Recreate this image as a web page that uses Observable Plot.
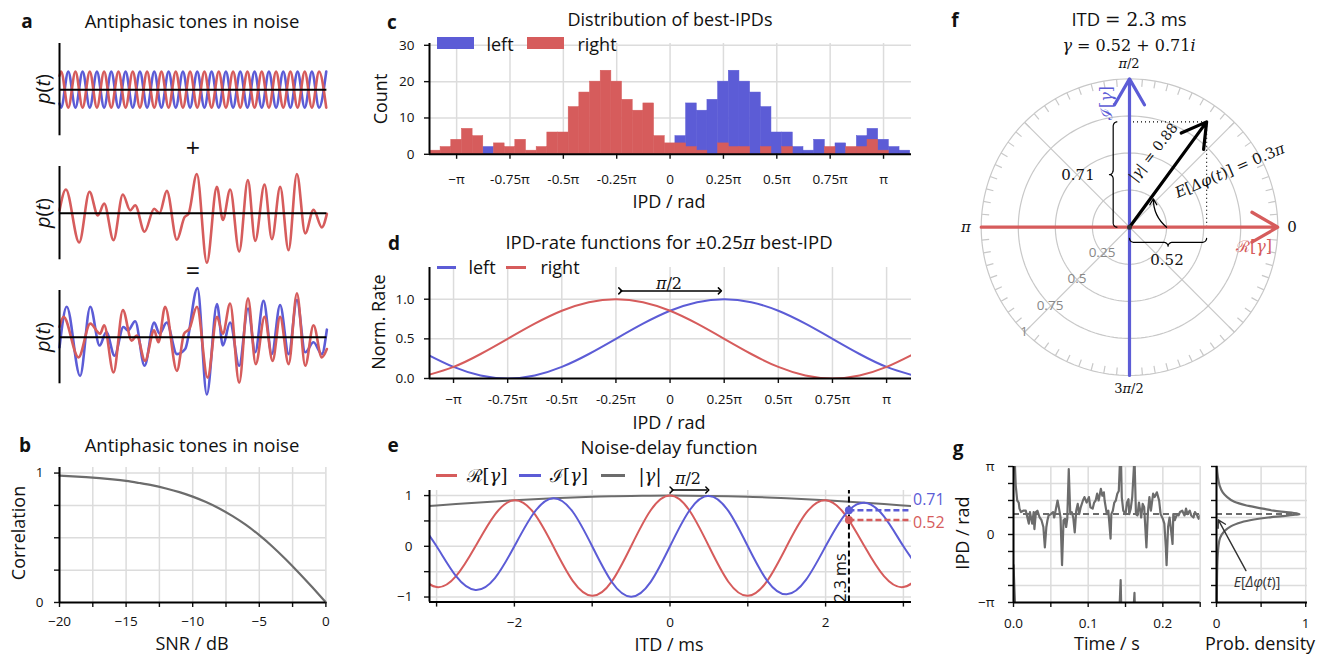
<!DOCTYPE html>
<html><head><meta charset="utf-8"><title>Figure</title>
<script src="https://cdn.jsdelivr.net/npm/d3@7"></script>
<script src="https://cdn.jsdelivr.net/npm/@observablehq/plot@0.6"></script>
<style>
html,body{margin:0;padding:0;background:#fff;}
#root{position:relative;width:1333px;height:656px;overflow:hidden;font-family:"Open Sans","DejaVu Sans",sans-serif;color:#111;}
.p{position:absolute;}
.t{position:absolute;white-space:nowrap;line-height:1;transform:translate(-50%,-50%);}
.ti{font-size:18.5px;}
.lab{font-size:18px;}
.L{font-weight:700;font-size:19px;}
.m{font-family:"DejaVu Serif","Liberation Serif",serif;}
.sw{position:absolute;}
</style></head><body><div id="root"></div>
<script>
// ================= DATA =================
const BLUE = "#5c5cd6", RED = "#d65c5c", GRAY = "#6c6c6c", GRID = "#dcdcdc";
const SANS = '"Open Sans","DejaVu Sans",sans-serif';

// a1: antiphasic tones (extrema of the right-ear tone, left ear is antiphasic)
const toneT = [0, 0.006, 0.0328, 0.0596, 0.0864, 0.1132, 0.14, 0.1668, 0.1936, 0.2204, 0.2472, 0.274, 0.3008, 0.3276, 0.3544, 0.3812, 0.408, 0.4348, 0.4616, 0.4884, 0.5152, 0.542, 0.5688, 0.5956, 0.6224, 0.6492, 0.676, 0.7028, 0.7296, 0.7564, 0.7832, 0.81, 0.8368, 0.8636, 0.8904, 0.9172, 0.944, 0.9708, 0.9976];
const toneRight = [0.77, 1, -1, 1, -1, 1, -1, 1, -1, 1, -1, 1, -1, 1, -1, 1, -1, 1, -1, 1, -1, 1, -1, 1, -1, 1, -1, 1, -1, 1, -1, 1, -1, 1, -1, 1, -1, 1, -1];
const toneLeft = [-0.77, -1, 1, -1, 1, -1, 1, -1, 1, -1, 1, -1, 1, -1, 1, -1, 1, -1, 1, -1, 1, -1, 1, -1, 1, -1, 1, -1, 1, -1, 1, -1, 1, -1, 1, -1, 1, -1, 1];

// a2: noise (extrema)
const noiseT = [0, 0.0237, 0.0736, 0.1122, 0.1434, 0.1671, 0.202, 0.2369, 0.2643, 0.283, 0.318, 0.3541, 0.374, 0.4015, 0.4389, 0.4676, 0.4825, 0.5137, 0.5511, 0.5885, 0.611, 0.6384, 0.6721, 0.7045, 0.7319, 0.7668, 0.7943, 0.8254, 0.8566, 0.8878, 0.919, 0.9501, 0.9813, 1.0];
const noiseV = [0.15, 1.30, -1.61, 1.17, -0.13, 0.52, -1.48, 1.02, 0.15, 0.43, -1.02, 0.24, 0.0, 1.22, -1.46, -0.22, -0.04, 2.15, -2.72, 1.44, -0.37, 1.30, -2.11, 1.81, -1.52, 1.57, -1.43, 1.44, -2.04, 2.15, -1.11, 0.19, -0.78, -0.04];

// a3: tones in noise (extrema)
const mixRightT = [0, 0.015, 0.071, 0.115, 0.152, 0.167, 0.202, 0.237, 0.27, 0.289, 0.32, 0.354, 0.37, 0.395, 0.439, 0.466, 0.486, 0.514, 0.554, 0.589, 0.611, 0.638, 0.672, 0.705, 0.734, 0.767, 0.797, 0.825, 0.857, 0.888, 0.919, 0.95, 0.981, 1.0];
const mixRightV = [0.56, 1.11, -1.11, 0.74, 0.19, 0.65, -1.94, 1.48, -0.19, 0.09, -1.30, 0.37, -0.28, 1.67, -1.85, 0.19, 0.46, 1.67, -2.22, 1.11, 0.19, 1.85, -2.5, 2.13, -1.48, 1.11, -1.30, 1.11, -1.48, 2.41, -1.57, 0.65, -1.11, -0.65];
const mixLeftT = [0, 0.027, 0.077, 0.115, 0.15, 0.175, 0.206, 0.239, 0.256, 0.283, 0.318, 0.354, 0.374, 0.401, 0.439, 0.47, 0.516, 0.551, 0.589, 0.611, 0.638, 0.672, 0.705, 0.732, 0.763, 0.794, 0.825, 0.857, 0.888, 0.919, 0.95, 0.981, 1.0];
const mixLeftV = [-0.56, 1.67, -2.13, 1.67, -0.46, 0.28, -1.02, 0.56, 0.37, 0.87, -1.57, 0.80, 0.19, 0.80, -0.93, -0.65, 2.69, -3.15, 1.81, -0.46, 0.80, -1.57, 1.57, -0.83, 2.0, -0.93, 1.76, -0.93, 2.04, -0.83, -0.28, -0.93, 0.41];

// b: correlation vs SNR
const bSNR = [-20, -19, -18, -17, -16, -15, -14, -13, -12, -11, -10, -9, -8, -7, -6, -5, -4, -3, -2, -1, 0];
const bCorr = [0.980, 0.975, 0.969, 0.961, 0.951, 0.939, 0.923, 0.905, 0.881, 0.853, 0.818, 0.776, 0.726, 0.667, 0.599, 0.520, 0.431, 0.332, 0.226, 0.115, 0];

// c: histogram of best-IPDs (bin centres in units of pi, width 0.05 pi)
const cBins = [-1.1, -1.05, -1, -0.95, -0.9, -0.85, -0.8, -0.75, -0.7, -0.65, -0.6, -0.55, -0.5, -0.45, -0.4, -0.35, -0.3, -0.25, -0.2, -0.15, -0.1, -0.05, 0, 0.05, 0.1, 0.15, 0.2, 0.25, 0.3, 0.35, 0.4, 0.45, 0.5, 0.55, 0.6, 0.65, 0.7, 0.75, 0.8, 0.85, 0.9, 0.95, 1, 1.05, 1.1];
const cLeft  = [0, 0, 0, 0, 0, 2, 0, 0, 0, 0, 0, 0, 0, 0, 0, 0, 0, 0, 0, 0, 0, 0, 0, 5, 14, 12, 15, 20, 23, 20, 17, 13, 6, 6, 2, 1, 4, 1, 3, 1, 5, 7, 4, 2, 1];
const cRight = [1, 2, 4, 7, 5, 0, 3, 2, 4, 1, 2, 6, 6, 13, 17, 20, 23, 20, 15, 12, 14, 5, 3, 3, 2, 1, 0, 3, 2, 2, 0, 2, 0, 2, 0, 0, 0, 2, 0, 2, 2, 4, 1, 0, 0];
const piTicks = [-1, -0.75, -0.5, -0.25, 0, 0.25, 0.5, 0.75, 1];
const piTickLabels = ["−π", "-0.75π", "-0.5π", "-0.25π", "0", "0.25π", "0.5π", "0.75π", "π"];

// d: IPD-rate functions (IPD in units of pi)
const dIPD = [-1.125, -1, -0.875, -0.75, -0.625, -0.5, -0.375, -0.25, -0.125, 0, 0.125, 0.25, 0.375, 0.5, 0.625, 0.75, 0.875, 1, 1.125];
const dLeft  = [0.309, 0.146, 0.038, 0, 0.038, 0.146, 0.309, 0.5, 0.691, 0.854, 0.962, 1, 0.962, 0.854, 0.691, 0.5, 0.309, 0.146, 0.038];
const dRight = [0.038, 0.146, 0.309, 0.5, 0.691, 0.854, 0.962, 1, 0.962, 0.854, 0.691, 0.5, 0.309, 0.146, 0.038, 0, 0.038, 0.146, 0.309];

// e: noise-delay function
const eITD = [-3.25, -3, -2.75, -2.5, -2.25, -2, -1.75, -1.5, -1.25, -1, -0.75, -0.5, -0.25, 0, 0.25, 0.5, 0.75, 1, 1.25, 1.5, 1.75, 2, 2.25, 2.5, 2.75, 3, 3.25];
const eRe  = [-0.547, -0.804, -0.589, 0, 0.626, 0.908, 0.657, 0, -0.681, -0.976, -0.698, 0, 0.706, 1, 0.706, 0, -0.698, -0.976, -0.681, 0, 0.657, 0.908, 0.626, 0, -0.589, -0.804, -0.547];
const eIm  = [0.547, 0, -0.589, -0.860, -0.626, 0, 0.657, 0.947, 0.681, 0, -0.698, -0.994, -0.706, 0, 0.706, 0.994, 0.698, 0, -0.681, -0.947, -0.657, 0, 0.626, 0.860, 0.589, 0, -0.547];
const eAbs = [0.774, 0.804, 0.833, 0.860, 0.885, 0.908, 0.929, 0.947, 0.963, 0.976, 0.987, 0.994, 0.998, 1, 0.998, 0.994, 0.987, 0.976, 0.963, 0.947, 0.929, 0.908, 0.885, 0.860, 0.833, 0.804, 0.774];
const eSel = {itd: 2.3, re: 0.52, im: 0.71};

// f: complex coherence
const fGamma = {re: 0.52, im: 0.71};
const fRings = [0.25, 0.5, 0.75, 1];
const fSpokes = [45, 135, 225, 315];

// g: IPD over time (units of pi) and its density
const gTime = [0, 0.003, 0.005, 0.007, 0.008, 0.010, 0.013, 0.0165, 0.019, 0.0205, 0.022, 0.025, 0.027, 0.028, 0.030, 0.032, 0.035, 0.0375, 0.040, 0.042, 0.044, 0.0455, 0.047, 0.050, 0.053, 0.0545, 0.056, 0.059, 0.061, 0.063, 0.065, 0.067, 0.069, 0.0705, 0.072, 0.074, 0.076, 0.078, 0.080, 0.082, 0.084, 0.086, 0.088, 0.090, 0.093, 0.095, 0.098, 0.101, 0.103, 0.106, 0.108, 0.110, 0.112, 0.114, 0.117, 0.119, 0.121, 0.122, 0.125, 0.127, 0.130, 0.131, 0.133, 0.135, 0.137, 0.139, 0.141, 0.1435, 0.145, 0.147, 0.150, 0.152, 0.154, 0.155, 0.157, 0.159, 0.162, 0.164, 0.166, 0.168, 0.171, 0.173, 0.175, 0.178, 0.180, 0.182, 0.184, 0.187, 0.189, 0.192, 0.195, 0.197, 0.200, 0.202, 0.204, 0.205, 0.207, 0.209, 0.211, 0.213, 0.214, 0.216, 0.219, 0.221, 0.223, 0.226, 0.229, 0.231, 0.233, 0.236, 0.238, 0.241, 0.243, 0.246, 0.248, 0.250];
const gIPD = [1.55, 0.72, 0.50, 0.47, 0.38, 0.33, 0.35, 0.35, 0.23, 0.16, 0.33, 0.16, 0.33, 0.08, 0.33, 0.35, 0.25, 0.21, 0.11, -0.19, 0.11, 0.21, 0.28, 0.30, 0.33, 0.25, 0.33, 0.50, 0.38, 0.25, -0.45, 0.21, 0.23, 0.11, 0.23, 0.96, 0.30, 0.33, 0.25, 0.03, 0.35, 0.45, 0.30, 0.40, 0.50, 0.55, 0.47, 0.55, 0.40, 0.38, 0.47, 0.50, 0.60, 0.50, 0.67, 0.57, 0.62, 0.50, 0.30, 0.35, -0.06, 0.30, 0.35, 0.47, 0.50, 0.60, 0.64, 1.33, 0.55, 0.35, 0.30, 0.47, 0.52, 0.30, 0.38, 0.55, 1.14, 0.30, 0.28, 0.47, 0.25, 0.45, 0.40, -0.19, 0.33, 0.55, 0.35, 0.60, 0.55, 0.62, 0.50, 0.30, 0.23, 0.16, -0.19, -0.45, 0.11, 0.25, 0.06, -0.14, 0.30, 0.21, 0.30, 0.28, 0.33, 0.35, 0.28, 0.38, 0.30, 0.35, 0.28, 0.25, 0.33, 0.28, 0.23, 0.28];
const gMeanIPD = 0.3;
const gDensIPD = [-1, -0.7, -0.4, -0.2, -0.05, 0.05, 0.12, 0.18, 0.22, 0.25, 0.27, 0.29, 0.3, 0.31, 0.33, 0.35, 0.38, 0.42, 0.48, 0.55, 0.62, 0.72, 0.85, 1];
const gDens = [0.003, 0.005, 0.01, 0.02, 0.04, 0.09, 0.16, 0.28, 0.42, 0.58, 0.74, 0.88, 0.93, 0.9, 0.78, 0.64, 0.52, 0.36, 0.2, 0.12, 0.07, 0.035, 0.015, 0.004];

// ================= HELPERS =================
const root = document.getElementById("root");
const M = {t: 30, r: 30, b: 40, l: 55};
function panel(frame, opts, m = M) {
  const [x0, y0, x1, y1] = frame;
  const width = x1 - x0 + m.l + m.r, height = y1 - y0 + m.t + m.b;
  const svg = Plot.plot({
    width, height, marginTop: m.t, marginRight: m.r, marginBottom: m.b, marginLeft: m.l,
    style: {background: "transparent", overflow: "visible", fontFamily: SANS, fontSize: "13.5px", color: "#111"},
    ...opts
  });
  svg.style.maxWidth = "none";
  const div = document.createElement("div");
  div.className = "p";
  Object.assign(div.style, {left: (x0 - m.l) + "px", top: (y0 - m.t) + "px", width: width + "px", height: height + "px"});
  div.append(svg);
  root.append(div);
}
function T(x, y, html, cls = "", css = {}) {
  const d = document.createElement("div");
  d.className = "t " + cls;
  d.style.left = x + "px"; d.style.top = y + "px";
  d.innerHTML = html;
  Object.assign(d.style, css);
  root.append(d);
  return d;
}
function R(x, y, w, h, color) {
  const d = document.createElement("div");
  d.className = "sw";
  Object.assign(d.style, {left: x + "px", top: y + "px", width: w + "px", height: h + "px", background: color});
  root.append(d);
}
const num = d => (d < 0 ? "−" + Math.abs(d) : String(d));
function axes({xd, yd, xl = [], xm = [], yl = [], ym = [], fx = num, fy = num, padX = 11, padY = 10, spineX = true}) {
  const c = {tickSize: 5, strokeWidth: 1.4, stroke: "#111", fill: "#111", fontSize: 13.5, label: null};
  return [
    xl.length ? Plot.axisX(xl, {...c, tickPadding: padX, tickFormat: fx}) : null,
    xm.length ? Plot.axisX(xm, {...c, tickFormat: () => ""}) : null,
    yl.length ? Plot.axisY(yl, {...c, tickPadding: padY, tickFormat: fy}) : null,
    ym.length ? Plot.axisY(ym, {...c, tickFormat: () => ""}) : null,
    Plot.ruleX([xd[0]], {stroke: "#000", strokeWidth: 2}),
    spineX ? Plot.ruleY([yd[0]], {stroke: "#000", strokeWidth: 2}) : null
  ].filter(Boolean);
}
const grid = (xg, yg) => [
  Plot.gridX(xg, {stroke: GRID, strokeOpacity: 1, strokeWidth: 1.5}),
  Plot.gridY(yg, {stroke: GRID, strokeOpacity: 1, strokeWidth: 1.5})
];
const zip = (xs, ys, kx = "x", ky = "y") => xs.map((x, i) => ({[kx]: x, [ky]: ys[i]}));
const piFmt = d => piTickLabels[piTicks.indexOf(d)];
const rot = "translate(-50%,-50%) rotate(-90deg)";

// ================= PANEL a =================
const aY = [-2.56, 2.56];
function aPanel(frame, series) {
  panel(frame, {
    x: {domain: [0, 1], axis: null}, y: {domain: aY, axis: null},
    marks: [
      ...series.map(([xs, ys, col]) => Plot.line(zip(xs, ys), {x: "x", y: "y", stroke: col, strokeWidth: 2.6, curve: "monotone-x"})),
      Plot.ruleY([0], {stroke: "#000", strokeWidth: 2}),
      Plot.ruleX([0], {stroke: "#000", strokeWidth: 2})
    ]
  });
}
aPanel([59.3, 42.7, 326.7, 135], [[toneT, toneLeft, BLUE], [toneT, toneRight, RED]]);
aPanel([59.3, 166, 326.7, 259.3], [[noiseT, noiseV, RED]]);
aPanel([59.3, 290, 326.7, 383.3], [[mixLeftT, mixLeftV, BLUE], [mixRightT, mixRightV, RED]]);
T(27, 21, "a", "L");
T(192, 21, "Antiphasic tones in noise", "ti");
for (const y of [89, 213, 337]) T(43, y, "<i>p</i>(<i>t</i>)", "lab", {transform: rot, fontSize: "20px"});
T(193, 147, "+", "", {fontSize: "25px"});
T(193, 270, "=", "", {fontSize: "25px"});

// ================= PANEL b =================
{
  const xd = [-20, 0], yd = [0, 1.043];
  panel([59.3, 466.7, 325.7, 601.7], {
    x: {domain: xd}, y: {domain: yd},
    marks: [
      ...grid([-20, -17.5, -15, -12.5, -10, -7.5, -5, -2.5, 0], [0.25, 0.5, 0.75, 1]),
      Plot.line(zip(bSNR, bCorr), {x: "x", y: "y", stroke: GRAY, strokeWidth: 2.2, curve: "natural"}),
      ...axes({xd, yd, xl: [-20, -15, -10, -5, 0], xm: [-17.5, -12.5, -7.5, -2.5], yl: [0, 1], ym: [0.25, 0.5, 0.75], padX: 9, padY: 11})
    ]
  });
  T(25, 445, "b", "L");
  T(192, 445, "Antiphasic tones in noise", "ti");
  T(18, 533, "Correlation", "lab", {transform: rot});
  T(192, 643, "SNR / dB", "lab");
}

// ================= PANEL c =================
{
  const xd = [-1.127, 1.131], yd = [0, 30.5];
  const half = 0.025;
  const left = cBins.map((c, i) => ({x1: c - half, x2: c + half, n: cLeft[i]})).filter(d => d.n > 0);
  const right = cBins.map((c, i) => ({x1: c - half, x2: c + half, n: cRight[i]})).filter(d => d.n > 0);
  panel([429, 42.9, 911, 153.7], {
    x: {domain: xd}, y: {domain: yd},
    marks: [
      ...grid(piTicks, [10, 20, 30]),
      Plot.rectY(left, {x1: "x1", x2: "x2", y: "n", fill: BLUE, stroke: BLUE, strokeWidth: 0.5}),
      Plot.rectY(right, {x1: "x1", x2: "x2", y: "n", fill: RED, stroke: RED, strokeWidth: 0.5}),
      ...axes({xd, yd, xl: piTicks, fx: piFmt, yl: [0, 10, 20, 30], padX: 15, padY: 10})
    ]
  });
  T(392, 22, "c", "L");
  T(670, 19, "Distribution of best-IPDs", "ti", {fontSize: "18px"});
  R(437, 37, 37, 12, BLUE); T(500, 44, "left", "lab");
  R(527, 37, 37, 12, RED); T(597, 44, "right", "lab");
  T(380, 99, "Count", "lab", {transform: rot});
  T(669, 201, "IPD / rad", "lab");
}

// ================= PANEL d =================
{
  const xd = [-1.111, 1.115], yd = [0, 1.4];
  panel([429, 266.7, 911, 377.7], {
    x: {domain: xd}, y: {domain: yd},
    marks: [
      ...grid(piTicks, [0.5, 1]),
      Plot.line(zip(dIPD, dLeft), {x: "x", y: "y", stroke: BLUE, strokeWidth: 2, curve: "natural", clip: true}),
      Plot.line(zip(dIPD, dRight), {x: "x", y: "y", stroke: RED, strokeWidth: 2, curve: "natural", clip: true}),
      Plot.link([0], {x1: -0.23, x2: 0.23, y1: 1.105, y2: 1.105, stroke: "#000", strokeWidth: 1.5, markerStart: "arrow", markerEnd: "arrow"}),
      ...axes({xd, yd, xl: piTicks, fx: piFmt, yl: [0, 0.5, 1], fy: d => d.toFixed(1), padX: 10.5, padY: 10})
    ]
  });
  T(394, 243, "d", "L");
  T(669, 243, "IPD-rate functions for ±0.25<span class='m'><i>π</i></span> best-IPD", "ti");
  R(437, 266, 19, 2.5, BLUE); T(482, 267, "left", "lab");
  R(506, 266, 20, 2.5, RED); T(560, 267, "right", "lab");
  T(669, 284, "<i>π</i>/2", "m", {fontSize: "16px"});
  T(378, 322, "Norm. Rate", "lab", {transform: rot});
  T(669, 422, "IPD / rad", "lab");
}

// ================= PANEL e =================
{
  const xd = [-3.091, 3.104], yd = [-1.1, 1.1];
  panel([429, 490.4, 911, 602], {
    x: {domain: xd}, y: {domain: yd},
    marks: [
      ...grid([-3, -2, -1, 0, 1, 2, 3], [-1, -0.5, 0, 0.5, 1]),
      Plot.line(zip(eITD, eAbs), {x: "x", y: "y", stroke: GRAY, strokeWidth: 2, curve: "natural", clip: true}),
      Plot.line(zip(eITD, eRe), {x: "x", y: "y", stroke: RED, strokeWidth: 2, curve: "natural", clip: true}),
      Plot.line(zip(eITD, eIm), {x: "x", y: "y", stroke: BLUE, strokeWidth: 2, curve: "natural", clip: true}),
      Plot.ruleX([eSel.itd], {y1: yd[0], y2: yd[1], stroke: "#000", strokeWidth: 2, strokeDasharray: "6,3"}),
      Plot.ruleY([eSel.im], {x1: eSel.itd, x2: xd[1], stroke: BLUE, strokeWidth: 2.5, strokeDasharray: "6,3"}),
      Plot.ruleY([eSel.re], {x1: eSel.itd, x2: xd[1], stroke: RED, strokeWidth: 2.5, strokeDasharray: "6,3"}),
      Plot.dot([eSel], {x: "itd", y: "im", r: 4, fill: BLUE}),
      Plot.dot([eSel], {x: "itd", y: "re", r: 4, fill: RED}),
      Plot.link([0], {x1: 0.02, x2: 0.48, y1: 1.108, y2: 1.108, stroke: "#000", strokeWidth: 1.5, markerStart: "arrow", markerEnd: "arrow"}),
      ...axes({xd, yd, xl: [-2, 0, 2], xm: [-3, -1, 1, 3], yl: [-1, 0, 1], ym: [-0.5, 0.5], padX: 10.5, padY: 12})
    ]
  });
  T(393, 445, "e", "L");
  T(669, 447, "Noise-delay function", "ti");
  R(436, 474, 21, 2.5, RED); T(487, 475, "<span class='m'>ℛ[<i>γ</i>]</span>", "lab");
  R(519, 474, 22, 2.5, BLUE); T(569, 475, "<span class='m'>ℐ[<i>γ</i>]</span>", "lab");
  R(601, 474, 24, 2.5, GRAY); T(650, 475, "<span class='m'>|<i>γ</i>|</span>", "lab");
  T(688, 479, "<i>π</i>/2", "m", {fontSize: "16px"});
  T(840, 578, "2.3 ms", "", {fontSize: "16px", transform: rot});
  T(913, 499, "0.71", "", {fontSize: "16px", color: BLUE, transform: "translate(0,-50%)"});
  T(913, 522, "0.52", "", {fontSize: "16px", color: RED, transform: "translate(0,-50%)"});
  T(669, 644, "ITD / ms", "lab");
}

// ================= PANEL f =================
{
  const xd = [-1.1396, 1.1531], yd = [-1.1686, 1.124];
  const rad = a => a * Math.PI / 180;
  const ringPts = fRings.flatMap(r => d3.range(0, 361, 2).map(a => ({r, x: r * Math.cos(rad(a)), y: r * Math.sin(rad(a))})));
  const rimTicks = d3.range(0, 360, 5);
  function brace(a, b, e0, e1, e2, r, vertical) {
    const mid = (a + b) / 2, pts = [], n = 12;
    for (let i = 0; i <= n; i++) { const t = i / n * Math.PI / 2; pts.push([a + r * (1 - Math.cos(t)), e0 + (e1 - e0) * Math.sin(t)]); }
    for (let i = 0; i <= n; i++) { const t = i / n * Math.PI / 2; pts.push([mid - r + r * Math.sin(t), e1 + (e2 - e1) * (1 - Math.cos(t))]); }
    const h = pts.slice();
    for (let i = h.length - 1; i >= 0; i--) pts.push([2 * mid - h[i][0], h[i][1]]);
    return pts.map(([u, v]) => vertical ? {x: v, y: u} : {x: u, y: v});
  }
  const g = fGamma, ang = Math.atan2(g.im, g.re);
  panel([960, 60, 1300, 400], {
    x: {domain: xd, axis: null}, y: {domain: yd, axis: null},
    marks: [
      Plot.line(ringPts, {x: "x", y: "y", z: "r", stroke: "#c8c8c8", strokeWidth: 1.2}),
      Plot.link(fSpokes, {x1: 0, y1: 0, x2: a => Math.cos(rad(a)), y2: a => Math.sin(rad(a)), stroke: "#c8c8c8", strokeWidth: 1.2}),
      Plot.link(rimTicks, {x1: a => 0.95 * Math.cos(rad(a)), y1: a => 0.95 * Math.sin(rad(a)), x2: a => Math.cos(rad(a)), y2: a => Math.sin(rad(a)), stroke: "#c8c8c8", strokeWidth: 1.2}),
      Plot.ruleY([g.im], {x1: 0, x2: g.re, stroke: "#000", strokeWidth: 1.2, strokeDasharray: "1,3"}),
      Plot.ruleX([g.re], {y1: 0, y2: g.im, stroke: "#000", strokeWidth: 1.2, strokeDasharray: "1,3"}),
      Plot.arrow([0], {x1: -1, y1: 0, x2: 1, y2: 0, stroke: RED, strokeWidth: 3.2, headLength: 14}),
      Plot.arrow([0], {x1: 0, y1: -1, x2: 0, y2: 1, stroke: BLUE, strokeWidth: 3.2, headLength: 14}),
      Plot.line(brace(0, g.im, -0.085, -0.11, -0.135, 0.03, true), {x: "x", y: "y", stroke: "#000", strokeWidth: 1.2}),
      Plot.line(brace(0, g.re, -0.075, -0.102, -0.128, 0.03, false), {x: "x", y: "y", stroke: "#000", strokeWidth: 1.2}),
      Plot.arrow([0], {x1: 0.25, y1: 0, x2: 0.25 * Math.cos(ang * 0.93), y2: 0.25 * Math.sin(ang * 0.93), bend: 25, stroke: "#000", strokeWidth: 1.3, headLength: 8}),
      Plot.arrow([0], {x1: 0, y1: 0, x2: g.re, y2: g.im, stroke: "#000", strokeWidth: 3.2, headLength: 13}),
      Plot.dot([0], {x: 0, y: 0, r: 2.5, fill: "#333"})
    ]
  });
  T(955, 20, "f", "L");
  T(1129, 20, "ITD <span class='m'>= 2.3</span> ms", "ti");
  T(1129, 46, "<i>γ</i> = 0.52 + 0.71<i>i</i>", "m", {fontSize: "16px"});
  T(1129, 63, "<i>π</i>/2", "m", {fontSize: "13px"});
  T(1292, 227, "0", "m", {fontSize: "15px"});
  T(966, 227, "<i>π</i>", "m", {fontSize: "15px"});
  T(1129, 388, "3<i>π</i>/2", "m", {fontSize: "13px"});
  T(1107, 103, "ℐ[<i>γ</i>]", "m", {fontSize: "16px", color: BLUE, transform: rot});
  T(1254, 247, "ℛ[<i>γ</i>]", "m", {fontSize: "16px", color: RED});
  T(1078, 175, "0.71", "m", {fontSize: "15px"});
  T(1167, 260, "0.52", "m", {fontSize: "15px"});
  T(1153, 152, "|<i>γ</i>| = 0.88", "m", {fontSize: "14px", transform: "translate(-50%,-50%) rotate(-52deg)"});
  T(1230, 171, "<i>E</i>[<i>Δφ</i>(<i>t</i>)] = 0.3<i>π</i>", "m", {fontSize: "15px", transform: "translate(-50%,-50%) rotate(-23deg)"});
  const ringLab = [["0.25", 1102, 253], ["0.5", 1077, 279], ["0.75", 1050, 306], ["1", 1024, 332]];
  for (const [s, x, y] of ringLab) T(x, y, s, "", {fontSize: "13.5px", color: "#888"});
}

// ================= PANEL g =================
{
  const xd = [0, 0.25], yd = [-1, 1];
  const quarters = [-1, -0.75, -0.5, -0.25, 0, 0.25, 0.5, 0.75, 1];
  const pts = zip(gTime, gIPD, "t", "v");
  panel([1013.3, 465.7, 1200, 601.7], {
    x: {domain: xd}, y: {domain: yd},
    marks: [
      ...grid([0, 0.05, 0.1, 0.15, 0.2, 0.25], quarters),
      ...[0, 2, -2].map(o => Plot.line(pts, {x: "t", y: d => d.v + o, stroke: GRAY, strokeWidth: 2.2, clip: true})),
      Plot.ruleY([gMeanIPD], {stroke: GRAY, strokeWidth: 2, strokeDasharray: "6,4"}),
      ...axes({xd, yd, xl: [0, 0.1, 0.2], xm: [0.05, 0.15, 0.25], fx: d => d.toFixed(1), yl: [-1, 0, 1], ym: [-0.75, -0.5, -0.25, 0.25, 0.5, 0.75], fy: d => d === 1 ? "π" : d === -1 ? "−π" : "0", padX: 10.5, padY: 14})
    ]
  });
  const xd2 = [0, 1.02];
  panel([1215.7, 465.7, 1306.7, 601.7], {
    x: {domain: xd2}, y: {domain: yd},
    marks: [
      ...grid([0, 0.5, 1], quarters),
      Plot.line(zip(gDens, gDensIPD), {x: "x", y: "y", stroke: GRAY, strokeWidth: 2.2, curve: "catmull-rom"}),
      Plot.ruleY([gMeanIPD], {x1: 0, x2: 0.93, stroke: GRAY, strokeWidth: 2, strokeDasharray: "6,4"}),
      Plot.arrow([0], {x1: 0.33, y1: -0.53, x2: 0.02, y2: 0.215, stroke: "#333", strokeWidth: 1.4, headLength: 9}),
      ...axes({xd: xd2, yd, xl: [0, 1], xm: [0.5], ym: quarters, padX: 10.5})
    ]
  });
  T(958, 448, "g", "L");
  T(962, 533, "IPD / rad", "lab", {transform: rot});
  T(1107, 643, "Time / s", "lab");
  T(1260, 643, "Prob. density", "lab");
  T(1257, 582, "<i>E</i>[<i>Δφ</i>(<i>t</i>)]", "", {fontSize: "14px", color: "#333"});
}
</script></body></html>
